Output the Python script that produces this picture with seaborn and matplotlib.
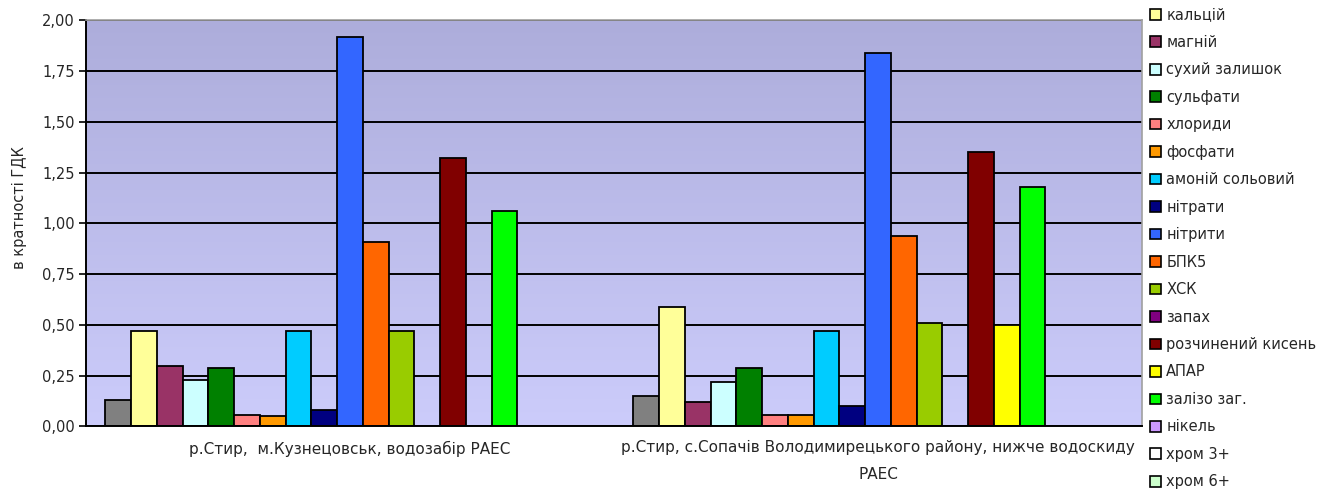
import numpy as np
import pandas as pd
import matplotlib
matplotlib.use("Agg")
import matplotlib.pyplot as plt
from matplotlib.patches import Patch
from matplotlib.ticker import FuncFormatter, MultipleLocator
import seaborn as sns

# 1. Data
sites = [
    "р.Стир,  м.Кузнецовськ, водозабір РАЕС",
    "р.Стир, с.Сопачів Володимирецького району, нижче водоскиду\nРАЕС",
]
components = [
    "_інше", "кальцій", "магній", "сухий залишок", "сульфати", "хлориди",
    "фосфати", "амоній сольовий", "нітрати", "нітрити", "БПК5", "ХСК",
    "запах", "розчинений кисень", "АПАР", "залізо заг.", "нікель",
    "хром 3+", "хром 6+",
]
colors = [
    "#808080", "#FFFF99", "#993366", "#CCFFFF", "#008000", "#FF8080",
    "#FF9900", "#00CCFF", "#000080", "#3366FF", "#FF6600", "#99CC00",
    "#800080", "#800000", "#FFFF00", "#00FF00", "#CC99FF",
    "#FFFFFF", "#CCFFCC",
]
vals_site1 = [0.13, 0.47, 0.30, 0.23, 0.29, 0.055, 0.05, 0.47, 0.08, 1.92,
              0.91, 0.47, 0, 1.32, 0, 1.06, 0, 0, 0]
vals_site2 = [0.15, 0.59, 0.12, 0.22, 0.29, 0.055, 0.055, 0.47, 0.10, 1.84,
              0.94, 0.51, 0, 1.35, 0.50, 1.18, 0, 0, 0]

df = pd.DataFrame({
    "site": [sites[0]] * len(components) + [sites[1]] * len(components),
    "component": components * 2,
    "value": vals_site1 + vals_site2,
})

# 2. Plot
sns.set_style("white")
plt.rcParams["font.family"] = ["DejaVu Sans"]
FS = 10.5

fig = plt.figure(figsize=(13.36, 4.9), dpi=100)
ax = fig.add_axes([0.0644, 0.1296, 0.8548 - 0.0644, 0.9586 - 0.1296])

# gradient background of plot area
grad = np.linspace(0, 1, 256).reshape(-1, 1)
cmap = matplotlib.colors.LinearSegmentedColormap.from_list("bg", ["#ADADDB", "#CCCCFB"])
ax.imshow(grad, extent=[0, 1, 0, 1], transform=ax.transAxes, cmap=cmap,
          aspect="auto", zorder=0, origin="upper")

sns.barplot(data=df, x="site", y="value", hue="component", hue_order=components,
            palette=colors, width=19 / 20.5, gap=0, saturation=1,
            edgecolor="black", linewidth=1.3, errorbar=None, legend=False,
            ax=ax, zorder=2)

ax.set_ylim(0, 2.0)
ax.set_xlim(-0.5, 1.5)
ax.yaxis.set_major_locator(MultipleLocator(0.25))
ax.yaxis.set_major_formatter(FuncFormatter(lambda v, p: f"{v:.2f}".replace(".", ",")))
ax.grid(axis="y", color="black", linewidth=1.4, zorder=1)
ax.set_axisbelow(True)

ax.set_xticks([0, 1])
ax.set_xticklabels(sites, fontsize=11, linespacing=2.0)
ax.set_xticks([-0.5, 0.5, 1.5], minor=True)
ax.tick_params(axis="x", which="major", length=0, pad=10)
ax.tick_params(axis="x", which="minor", length=5, width=1, direction="out", color="black")
ax.tick_params(axis="y", length=5, width=1.2, direction="out", color="black",
               labelsize=FS, left=True, pad=3)

for s in ["left", "bottom"]:
    ax.spines[s].set_color("black")
    ax.spines[s].set_linewidth(1.4)
for s in ["top", "right"]:
    ax.spines[s].set_color("#A0A0A0")
    ax.spines[s].set_linewidth(1.2)

ax.set_xlabel("")
ax.set_ylabel("в кратності ГДК", fontsize=FS)
ax.yaxis.set_label_coords(-0.056, 0.54)

# legend (first grey series has no visible entry)
handles = [Patch(facecolor=c, edgecolor="black", linewidth=1.2, label=l)
           for c, l in zip(colors[1:], components[1:])]
fig.legend(handles=handles, loc="upper left", bbox_to_anchor=(0.861, 0.985),
           frameon=False, fontsize=FS, labelspacing=0.855, handlelength=0.75,
           handleheight=0.75, handletextpad=0.35, borderpad=0, borderaxespad=0)

plt.savefig("out.png", dpi=100)
